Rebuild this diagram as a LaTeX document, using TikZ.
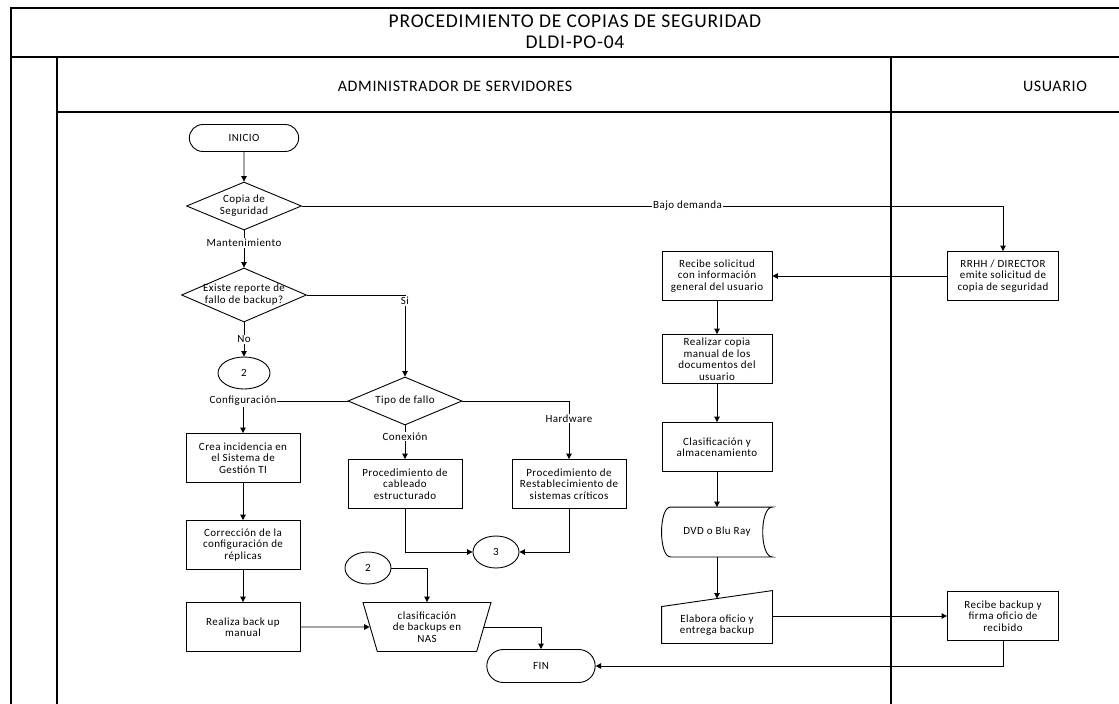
\documentclass[tikz,border=0pt]{standalone}
\usepackage{fontspec}
\setmainfont{Carlito}[LetterSpace=4.0]
\usetikzlibrary{arrows.meta,shapes.geometric,shapes.misc}

% text sizes used in the chart
\newcommand{\flowfont}{\fontsize{11}{11.5}\selectfont}
\newcommand{\lanefont}{\fontsize{16}{18}\selectfont}
\newcommand{\titlefont}{\fontsize{19.5}{21}\selectfont}
% text of a decision, kept out of the diamond's size
\newcommand{\dtext}[1]{\makebox[0pt]{\begin{tabular}{@{}c@{}}#1\end{tabular}}}

\begin{document}
\begin{tikzpicture}[x=1pt,y=-1pt,
    >={Triangle[length=5.5pt,width=5.5pt]},
    frame/.style={line width=1.4pt},
    flow/.style={line width=0.9pt},
    box/.style={draw, line width=0.9pt, fill=white, minimum width=114pt,
        minimum height=49pt, align=center, inner sep=1pt, font=\flowfont},
    ubox/.style={box, minimum width=110pt},
    terminal/.style={draw, line width=0.9pt, rounded rectangle, fill=white,
        minimum width=116pt, minimum height=27pt, font=\flowfont},
    decision/.style={draw, line width=0.9pt, diamond, fill=white, inner sep=0pt,
        minimum width=115pt, minimum height=48pt, font=\flowfont},
    connector/.style={draw, line width=0.9pt, ellipse, fill=white, inner sep=0pt,
        minimum width=48pt, minimum height=32pt, font=\flowfont},
    lbl/.style={fill=white, inner sep=1pt, font=\flowfont}]

    \useasboundingbox (0,0) rectangle (1119,704);

    % Frame and swimlanes
    \draw[frame] (11,704) -- (11,8) -- (1119,8);
    \draw[frame] (11,57) -- (1119,57);
    \draw[frame] (57,704) -- (57,57);
    \draw[frame] (57,112) -- (1119,112);
    \draw[frame] (891,57) -- (891,704);

    \node[font=\titlefont, align=center] (title) at (575,32)
        {PROCEDIMIENTO DE COPIAS DE SEGURIDAD\\DLDI-PO-04};
    \node[font=\lanefont] (admin) at (455,86) {ADMINISTRADOR DE SERVIDORES};
    \node[font=\lanefont] (user) at (1055,86) {USUARIO};

    % Administrador de servidores: mantenimiento
    \node[terminal] (start) at (244,138) {INICIO};
    \node[decision] (kind) at (244,206) {\dtext{Copia de\\Seguridad}};
    \node[decision, minimum width=125pt, minimum height=54pt] (report) at (244,295)
        {\dtext{Existe reporte de\\fallo de backup?}};
    \node[connector, minimum width=52pt] (goto2) at (244,373) {2};
    \node[decision, minimum width=114pt] (fault) at (405,401) {\dtext{Tipo de fallo}};

    \node[box] (ticket) at (243,458) {Crea incidencia en\\el Sistema de\\Gestión TI};
    \node[box] (fixconf) at (243,545) {Corrección de la\\configuración de\\réplicas};
    \node[box] (manual) at (243,627) {Realiza back up\\manual};

    \node[box] (cabling) at (405,484) {Procedimiento de\\cableado\\estructurado};
    \node[box] (restore) at (569,484) {Procedimiento de\\Restablecimiento de\\sistemas críticos};
    \node[connector, minimum width=46pt] (join3) at (496,552) {3};
    \node[connector, minimum width=46pt] (from2) at (368,568) {2};

    \node[draw, line width=0.9pt, trapezium, shape border rotate=180,
        trapezium angle=65, trapezium stretches body, fill=white,
        minimum width=128pt, minimum height=49pt, inner sep=0pt,
        align=center, font=\flowfont] (nas) at (427,627)
        {clasificación\\de backups en\\NAS};
    \node[terminal, minimum width=115pt, minimum height=33pt] (end) at (541,666) {FIN};

    % Administrador de servidores: bajo demanda
    \node[ubox] (request) at (717,276) {Recibe solicitud\\con información\\general del usuario};
    \node[ubox] (copy) at (717,359) {Realizar copia\\manual de los\\documentos del\\usuario};
    \node[ubox] (store) at (717,447) {Clasificación y\\almacenamiento};
    \node[ubox, draw=none, fill=none] (media) at (717,532) {DVD o Blu Ray};
    \node[ubox, draw=none, fill=none, minimum height=36pt] (letter) at (717,625)
        {Elabora oficio y\\entrega backup};

    % stored data and manual input outlines
    \draw[flow] (media.north east) -- ([xshift=9pt]media.north west)
        .. controls ([xshift=-3pt]media.north west) and ([xshift=-3pt]media.south west)
        .. ([xshift=9pt]media.south west) -- (media.south east)
        .. controls ([xshift=-13pt]media.south east) and ([xshift=-13pt]media.north east)
        .. cycle;
    \draw[flow] (letter.south west) -- (letter.south east)
        -- ([yshift=16pt]letter.north east) -- (letter.north west) -- cycle;

    % Usuario
    \node[ubox, minimum width=111pt] (boss) at (1003,276)
        {RRHH / DIRECTOR\\emite solicitud de\\copia de seguridad};
    \node[ubox, minimum width=111pt] (receive) at (1003,616)
        {Recibe backup y\\firma oficio de\\recibido};

    % Connectors
    \draw[flow,->] (start) -- (kind);
    \draw[flow,->] (kind) -- node[lbl, pos=0.34] {Mantenimiento} (report);
    \draw[flow,->] (kind.east) -| node[lbl, pos=0.275] {Bajo demanda} (boss.north);
    \draw[flow,->] (report.east) -| node[lbl, pos=0.537] {Si} (fault.north);
    \draw[flow,->] (report) -- node[lbl] {No} (goto2);
    \draw[flow,->] (fault.west) -| node[lbl, pos=0.5] {Configuración} (ticket.north);
    \draw[flow,->] (fault) -- node[lbl, pos=0.33] {Conexión} (cabling);
    \draw[flow,->] (fault.east) -| node[lbl, pos=0.65] {Hardware} (restore.north);

    \draw[flow,->] (ticket) -- (fixconf);
    \draw[flow,->] (fixconf) -- (manual);
    \draw[flow,->] (manual.east) -- (nas.west);
    \draw[flow,->] (cabling.south) |- (join3.west);
    \draw[flow,->] (restore.south) |- (join3.east);
    \draw[flow,->] (from2.east) -| (nas.north);
    \draw[flow,->] (nas.east) -| (end.north);

    \draw[flow,->] (boss.west) -- (request.east);
    \draw[flow,->] (request) -- (copy);
    \draw[flow,->] (copy) -- (store);
    \draw[flow,->] (store) -- (media.north);
    \draw[flow,->] (media.south) -- ([yshift=8pt]letter.north);
    \draw[flow,->] (letter.east |- receive.west) -- (receive.west);
    \draw[flow,->] (receive.south) |- (end.east);

\end{tikzpicture}
\end{document}
